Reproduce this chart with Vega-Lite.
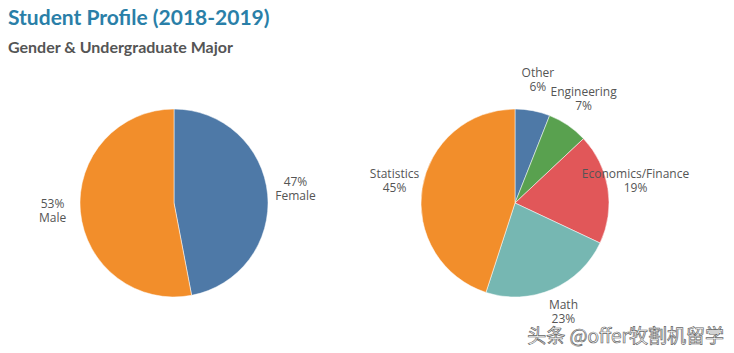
{
  "$schema": "https://vega.github.io/schema/vega-lite/v6.json",
  "padding": {"left": 8, "top": 8, "right": 0, "bottom": 0},
  "background": "#ffffff",
  "title": {
    "text": "Student Profile (2018-2019)",
    "subtitle": "Gender & Undergraduate Major",
    "anchor": "start",
    "font": "Lato",
    "fontSize": 21,
    "fontWeight": "bold",
    "color": "#2a7fa8",
    "subtitleFont": "Lato",
    "subtitleFontSize": 16,
    "subtitleFontWeight": "bold",
    "subtitleColor": "#555555",
    "subtitlePadding": 11,
    "offset": 11
  },
  "config": {
    "view": {"stroke": null},
    "concat": {"spacing": 0},
    "style": {"wm": {"stroke": "#666666", "strokeWidth": 0.7}}
  },
  "resolve": {"scale": {"color": "independent", "theta": "independent"}},
  "hconcat": [
    {
      "width": 332,
      "height": 260,
      "data": {"values": [
        {"group": "Female", "pct": 47, "ord": 1, "label": "47%\nFemale"},
        {"group": "Male", "pct": 53, "ord": 2, "label": "53%\nMale"}
      ]},
      "encoding": {
        "theta": {"field": "pct", "type": "quantitative", "stack": true},
        "order": {"field": "ord", "type": "quantitative"}
      },
      "layer": [
        {
          "mark": {"type": "arc", "outerRadius": 94, "stroke": "#ffffff", "strokeWidth": 0.5},
          "encoding": {
            "color": {"field": "group", "type": "nominal", "legend": null,
              "scale": {"domain": ["Female", "Male"], "range": ["#4e79a7", "#f28e2b"]}}
          }
        },
        {
          "mark": {"type": "text", "radius": 122, "dy": -10, "font": "Open Sans", "fontSize": 12, "color": "#555555", "lineBreak": "\n", "baseline": "middle", "align": "center"},
          "encoding": {"text": {"field": "label", "type": "nominal"}}
        }
      ]
    },
    {
      "width": 350,
      "height": 260,
      "title": {"text": "头条 @offer牧割机留学", "orient": "bottom", "anchor": "end", "font": "Noto Sans CJK SC", "fontSize": 19, "fontWeight": "normal", "color": "#ffffff", "offset": -5, "dx": 34, "style": "wm"},
      "data": {"values": [
        {"major": "Other", "pct": 6, "ord": 1, "label": "Other\n6%"},
        {"major": "Engineering", "pct": 7, "ord": 2, "label": "Engineering\n7%"},
        {"major": "Economics/Finance", "pct": 19, "ord": 3, "label": "Economics/Finance\n19%"},
        {"major": "Math", "pct": 23, "ord": 4, "label": "Math\n23%"},
        {"major": "Statistics", "pct": 45, "ord": 5, "label": "Statistics\n45%"}
      ]},
      "encoding": {
        "theta": {"field": "pct", "type": "quantitative", "stack": true},
        "order": {"field": "ord", "type": "quantitative"}
      },
      "layer": [
        {
          "mark": {"type": "arc", "outerRadius": 94, "stroke": "#ffffff", "strokeWidth": 0.5},
          "encoding": {
            "color": {"field": "major", "type": "nominal", "legend": null,
              "scale": {"domain": ["Other", "Engineering", "Economics/Finance", "Math", "Statistics"],
                        "range": ["#4e79a7", "#59a14f", "#e15759", "#76b7b2", "#f28e2b"]}}
          }
        },
        {
          "mark": {"type": "text", "radius": 122, "dy": -10, "font": "Open Sans", "fontSize": 12, "color": "#555555", "lineBreak": "\n", "baseline": "middle", "align": "center"},
          "encoding": {"text": {"field": "label", "type": "nominal"}}
        }
      ]
    }
  ]
}
